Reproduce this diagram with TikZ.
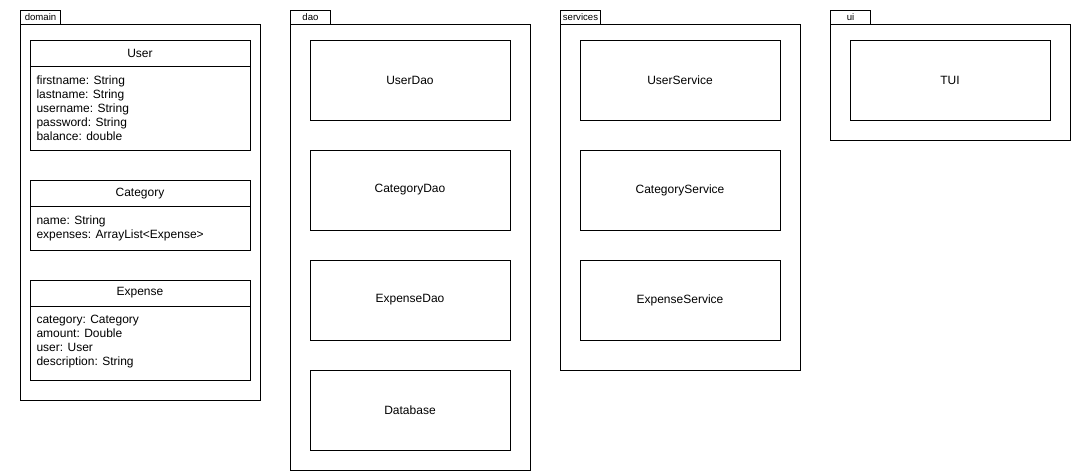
\documentclass[tikz,border=0pt]{standalone}
\usepackage{fontspec}
\setmainfont{Liberation Sans}
\usetikzlibrary{positioning}
\tikzset{
  pkgtab/.style={draw,anchor=north west,minimum width=30pt,minimum height=10.5pt,
    inner sep=0pt,font=\fontsize{7.2}{8}\selectfont},
  pkgbody/.style={draw,anchor=north west,minimum width=180pt,inner sep=0pt},
  classbox/.style={draw,anchor=north west,minimum width=165pt,inner sep=0pt},
  classname/.style={font=\fontsize{9}{10.5}\selectfont,inner sep=0pt},
  attrs/.style={anchor=north west,align=left,inner sep=0pt,
    font=\fontsize{9}{10.5}\selectfont},
  plainbox/.style={draw,minimum width=150pt,minimum height=60pt,inner sep=0pt,
    font=\fontsize{9}{10.5}\selectfont},
}
\begin{document}
\begin{tikzpicture}[x=.75pt,y=-.75pt,line width=.75pt]
\useasboundingbox (0,0) rectangle (1071,471);
% packages
\foreach \n/\x/\h in {domain/20/282,dao/290/334.5,services/560/259.5,ui/830/87}{
  \node[pkgtab] (\n tab) at (\x,10) {\n};
  \node[pkgbody,minimum height=\h pt] (\n) at (\x,24) {};
}
% domain classes
\node[classbox,minimum height=82.5pt] (user) at (30,40) {};
\node[classname] (user title) at (140,53) {User};
\draw ([yshift=-19.5pt]user.north west) -- ([yshift=-19.5pt]user.north east);
\node[attrs] (user attrs) at (36,75) {firstname: String\\lastname: String\\username: String\\password: String\\balance: double};
\node[classbox,minimum height=52.5pt] (category) at (30,180) {};
\node[classname] (category title) at (140,194) {Category};
\draw ([yshift=-19.5pt]category.north west) -- ([yshift=-19.5pt]category.north east);
\node[attrs] (category attrs) at (36,215) {name: String\\expenses: ArrayList<Expense>};
\node[classbox,minimum height=75pt] (expense) at (30,280) {};
\node[classname] (expense title) at (140,293) {Expense};
\draw ([yshift=-19.5pt]expense.north west) -- ([yshift=-19.5pt]expense.north east);
\node[attrs] (expense attrs) at (36,315) {category: Category\\amount: Double\\user: User\\description: String};
% dao, services, ui
\foreach \n/\t/\y in {userdao/UserDao/80,categorydao/CategoryDao/190,expensedao/ExpenseDao/300,database/Database/410}
  \node[plainbox] (\n) at (410,\y) {\t};
\foreach \n/\t/\y in {userservice/UserService/80,categoryservice/CategoryService/190,expenseservice/ExpenseService/300}
  \node[plainbox] (\n) at (680,\y) {\t};
\node[plainbox] (tui) at (950,80) {TUI};
\end{tikzpicture}
\end{document}
